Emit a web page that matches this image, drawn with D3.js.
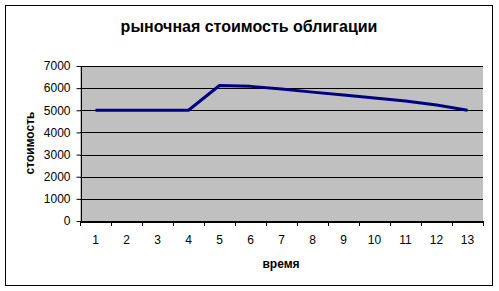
<!DOCTYPE html>
<html>
<head>
<meta charset="utf-8">
<script src="https://cdn.jsdelivr.net/npm/d3@7"></script>
<style>
  body { margin: 0; background: #fff; }
  text { font-family: "Liberation Sans", Arial, sans-serif; }
</style>
</head>
<body>
<svg id="chart" width="499" height="291"></svg>
<script>
// периоды и рыночная стоимость
var periods = [1, 2, 3, 4, 5, 6, 7, 8, 9, 10, 11, 12, 13];
var values = [5000, 5000, 5000, 5000, 6120, 6080, 5960, 5820, 5690, 5550, 5420, 5240, 5000];
var yTicks = [0, 1000, 2000, 3000, 4000, 5000, 6000, 7000];

var svg = d3.select("#chart");

var plotLeft = 80, plotRight = 483, plotTop = 66, plotBottom = 221;

// outer frame
svg.append("rect")
    .attr("x", 5.5).attr("y", 5.5)
    .attr("width", 487).attr("height", 280)
    .style("fill", "white")
    .style("stroke", "black");

var x = d3.scaleBand().domain(periods).range([plotLeft, plotRight]);
var y = d3.scaleLinear().domain([0, 7000]).range([plotBottom, plotTop]);

svg.append("rect")
    .attr("x", plotLeft).attr("y", plotTop)
    .attr("width", plotRight - plotLeft).attr("height", plotBottom - plotTop)
    .style("fill", "#c0c0c0");

// gridlines
svg.selectAll(".grid")
    .data(yTicks)
    .enter().append("line")
    .attr("x1", plotLeft).attr("x2", plotRight)
    .attr("y1", function(d){ return Math.round(y(d)) + 0.5; })
    .attr("y2", function(d){ return Math.round(y(d)) + 0.5; })
    .style("stroke", "black");

var yAxis = svg.append("g")
    .attr("transform", "translate(" + (plotLeft + 0.5) + ",0)")
    .call(d3.axisLeft(y).tickValues(yTicks).tickSize(4).tickPadding(6).tickFormat(d3.format("d")));

var xAxis = svg.append("g")
    .attr("transform", "translate(0," + (plotBottom + 0.5) + ")")
    .call(d3.axisBottom(x).tickSize(0).tickPadding(14));

// x ticks between categories
svg.selectAll(".xtick")
    .data(periods.concat([null]))
    .enter().append("line")
    .attr("x1", function(d, i){ return Math.round(plotLeft + i * x.step()) + 0.5; })
    .attr("x2", function(d, i){ return Math.round(plotLeft + i * x.step()) + 0.5; })
    .attr("y1", plotBottom).attr("y2", plotBottom + 5)
    .style("stroke", "black");

[yAxis, xAxis].forEach(function(a){
  a.selectAll("path").style("stroke", "black").attr("shape-rendering", "crispEdges");
  a.selectAll("line").style("stroke", "black");
  a.selectAll("text").style("font-size", "12px").style("fill", "black");
  a.attr("font-family", null);
});

var line = d3.line()
    .x(function(d, i){ return x(periods[i]) + x.bandwidth() / 2; })
    .y(function(d){ return y(d); });

svg.append("path")
    .datum(values)
    .attr("d", line)
    .style("fill", "none")
    .style("stroke", "#000080")
    .style("stroke-width", 3)
    .style("stroke-linejoin", "round");

svg.append("text")
    .attr("x", 249).attr("y", 32)
    .attr("text-anchor", "middle")
    .style("font-size", "16px").style("font-weight", "bold")
    .text("рыночная стоимость облигации");

svg.append("text")
    .attr("x", 281).attr("y", 268)
    .attr("text-anchor", "middle")
    .style("font-size", "12px").style("font-weight", "bold")
    .text("время");

svg.append("text")
    .attr("transform", "translate(34,143) rotate(-90)")
    .attr("text-anchor", "middle")
    .style("font-size", "12px").style("font-weight", "bold")
    .text("стоимость");
</script>
</body>
</html>
